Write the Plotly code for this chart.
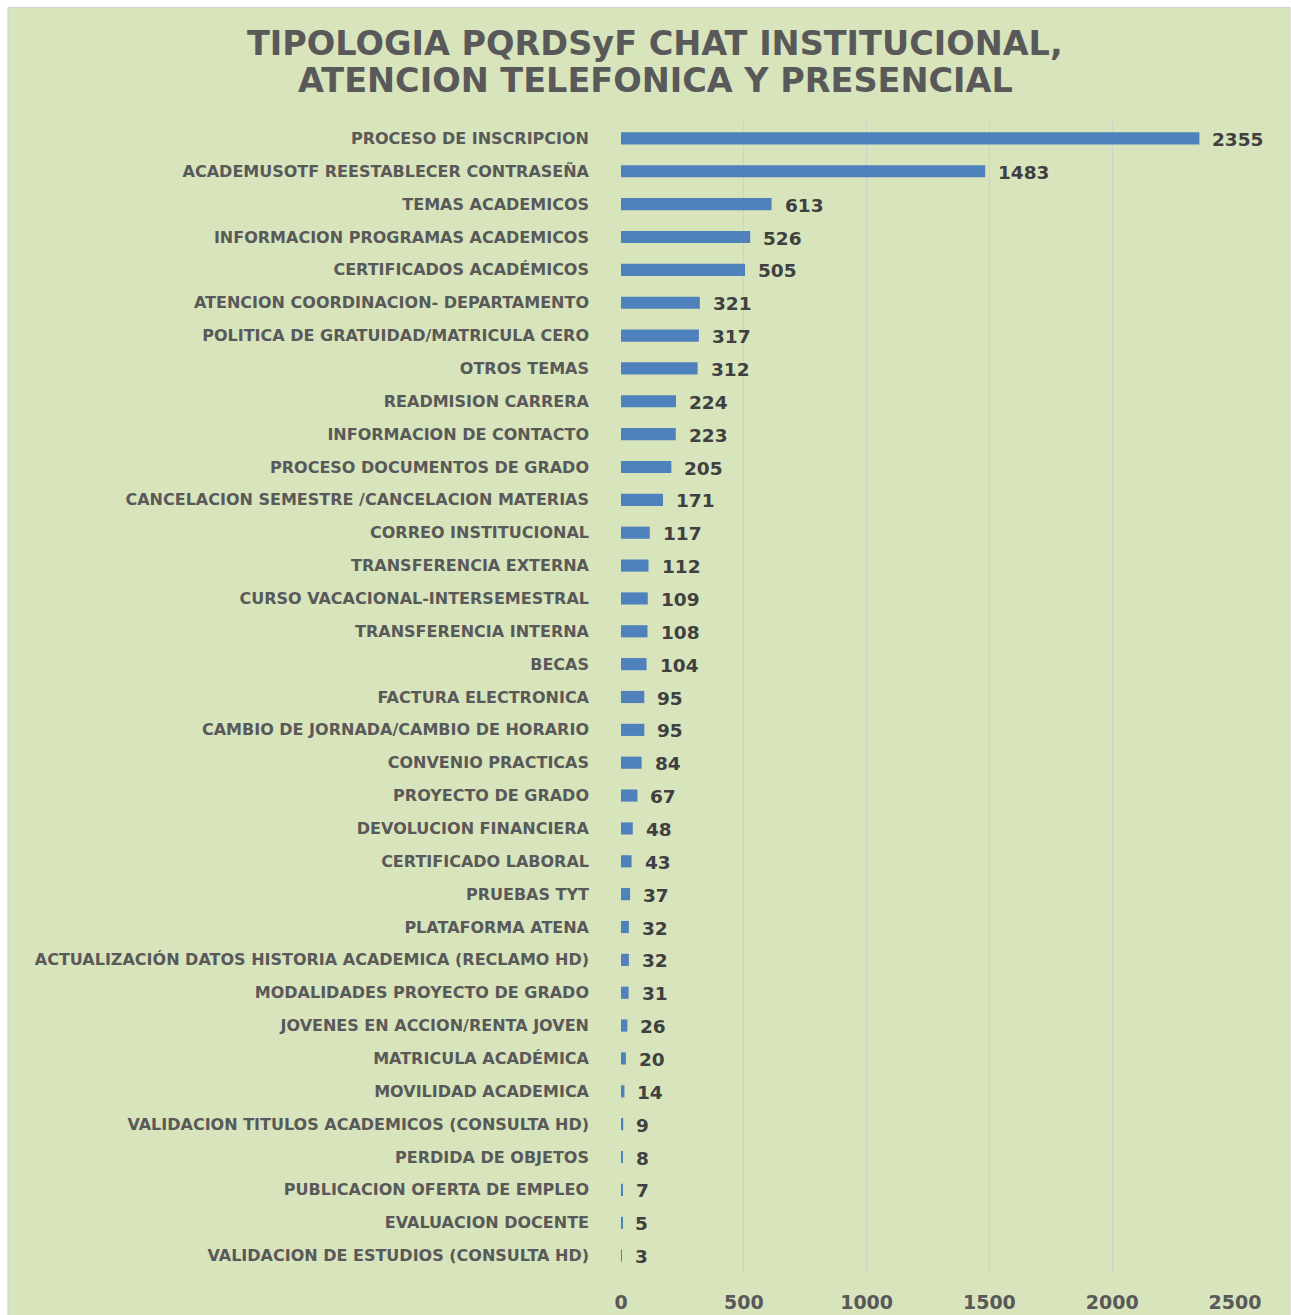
import plotly.graph_objects as go

categories = [
    "PROCESO DE INSCRIPCION",
    "ACADEMUSOTF REESTABLECER CONTRASEÑA",
    "TEMAS ACADEMICOS",
    "INFORMACION PROGRAMAS ACADEMICOS",
    "CERTIFICADOS ACADÉMICOS",
    "ATENCION COORDINACION- DEPARTAMENTO",
    "POLITICA DE GRATUIDAD/MATRICULA CERO",
    "OTROS TEMAS",
    "READMISION CARRERA",
    "INFORMACION DE CONTACTO",
    "PROCESO DOCUMENTOS DE GRADO",
    "CANCELACION SEMESTRE /CANCELACION MATERIAS",
    "CORREO INSTITUCIONAL",
    "TRANSFERENCIA EXTERNA",
    "CURSO VACACIONAL-INTERSEMESTRAL",
    "TRANSFERENCIA INTERNA",
    "BECAS",
    "FACTURA ELECTRONICA",
    "CAMBIO DE JORNADA/CAMBIO DE HORARIO",
    "CONVENIO PRACTICAS",
    "PROYECTO DE GRADO",
    "DEVOLUCION FINANCIERA",
    "CERTIFICADO LABORAL",
    "PRUEBAS TYT",
    "PLATAFORMA ATENA",
    "ACTUALIZACIÓN DATOS HISTORIA ACADEMICA (RECLAMO HD)",
    "MODALIDADES PROYECTO DE GRADO",
    "JOVENES EN ACCION/RENTA JOVEN",
    "MATRICULA ACADÉMICA",
    "MOVILIDAD ACADEMICA",
    "VALIDACION TITULOS ACADEMICOS (CONSULTA HD)",
    "PERDIDA DE OBJETOS",
    "PUBLICACION OFERTA DE EMPLEO",
    "EVALUACION DOCENTE",
    "VALIDACION DE ESTUDIOS (CONSULTA HD)",
]
values = [2355, 1483, 613, 526, 505, 321, 317, 312, 224, 223, 205, 171, 117, 112,
          109, 108, 104, 95, 95, 84, 67, 48, 43, 37, 32, 32, 31, 26, 20, 14, 9, 8, 7, 5, 3]
x_ticks = [0, 500, 1000, 1500, 2000, 2500]

title_lines = ["TIPOLOGIA PQRDSyF CHAT INSTITUCIONAL,",
               "ATENCION TELEFONICA Y PRESENCIAL"]

BG = "#d8e4bc"
GRAY = "#595959"
FONT = "DejaVu Sans"

W, H = 1291, 1315
L, R, T, B = 621, 56, 121.6, 42.6
pw, ph = W - L - R, H - T - B


def px_x(p):
    return (p - L) / pw


def px_y(p):
    return (H - B - p) / ph


fig = go.Figure()
fig.add_trace(go.Bar(
    x=values, y=categories, orientation="h",
    marker=dict(color="#4f81bd", line=dict(width=0)),
    hoverinfo="x+y",
))

for c, v in zip(categories, values):
    fig.add_annotation(x=v, y=c, text=f"<b>{v}</b>", showarrow=False,
                       xanchor="left", yanchor="middle", xshift=11, yshift=-1,
                       font=dict(family=FONT, size=18.5, color="#404040"))

for line, py in zip(title_lines, [43, 80]):
    fig.add_annotation(xref="paper", yref="paper", x=px_x(655), y=px_y(py),
                       text=f"<b>{line}</b>", showarrow=False,
                       xanchor="center", yanchor="middle",
                       font=dict(family=FONT, size=33.5, color=GRAY))

# background panel with thin border
fig.add_shape(type="rect", xref="paper", yref="paper", layer="below",
              x0=px_x(8), x1=px_x(1290), y0=px_y(1330), y1=px_y(7),
              fillcolor=BG, line=dict(color="#d0d0d0", width=1))

fig.update_layout(
    width=W, height=H,
    margin=dict(l=L, r=R, t=T, b=B, pad=0, autoexpand=False),
    paper_bgcolor="white",
    plot_bgcolor="rgba(0,0,0,0)",
    bargap=0.63,
    showlegend=False,
    xaxis=dict(range=[0, 2500], tickvals=x_ticks, ticktext=[f"<b>{t}</b>" for t in x_ticks],
               showgrid=True, gridcolor="#cfd0c8", gridwidth=1, zeroline=False,
               showline=False, ticks="", ticklabelstandoff=17, automargin=False,
               tickfont=dict(family=FONT, size=19, color=GRAY), fixedrange=True),
    yaxis=dict(categoryorder="array", categoryarray=categories, autorange="reversed",
               tickvals=categories, ticktext=[f"<b>{c}</b>" for c in categories],
               showgrid=False, zeroline=False, showline=False, ticks="",
               ticklabelstandoff=31, automargin=False,
               tickfont=dict(family=FONT, size=16, color=GRAY)),
)

fig.write_html("out.html")
